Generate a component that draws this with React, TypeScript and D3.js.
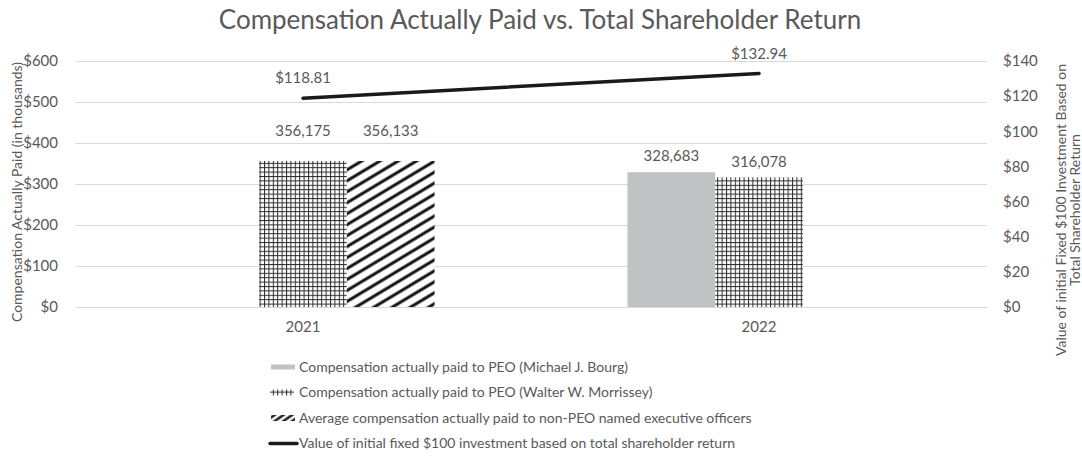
import React from "react";
import * as d3 from "d3";

const categories = ["2021", "2022"];
const seriesNames = [
  "Compensation actually paid to PEO (Michael J. Bourg)",
  "Compensation actually paid to PEO (Walter W. Morrissey)",
  "Average compensation actually paid to non-PEO named executive officers",
];
const peoBourg: (number | null)[] = [null, 328683];
const peoMorrissey: (number | null)[] = [356175, 316078];
const avgNonPeo: (number | null)[] = [356133, null];
const tsrValues = [118.81, 132.94];
const tsrName = "Value of initial fixed $100 investment based on total shareholder return";
const leftTicks = [0, 100000, 200000, 300000, 400000, 500000, 600000];
const rightTicks = [0, 20, 40, 60, 80, 100, 120, 140];

const W = 1082;
const H = 459;
const FONT = "Lato, 'Open Sans', sans-serif";
const TXT = "#595959";

export default function App() {
  const left = 75, right = 987, top = 61, bottom = 307;
  const x = d3.scaleBand<string>().domain(categories).range([left, right]).padding(0);
  const band = x.bandwidth();
  const groupW = band * 0.577;
  const sub = d3.scaleBand<number>().domain([0, 1, 2]).range([-groupW / 2, groupW / 2]).padding(0);
  const yL = d3.scaleLinear().domain([0, 600000]).range([bottom, top]);
  const yR = d3.scaleLinear().domain([0, 140]).range([bottom, top]);
  const series = [peoBourg, peoMorrissey, avgNonPeo];
  const fills = ["#c1c2c4", "url(#grid)", "url(#diag)"];
  const fmt = d3.format(",");
  const cx = (c: string) => (x(c) as number) + band / 2;
  // extra label lift per category (label placement as in reference)
  const labelLift = [30, 16];

  const line = d3
    .line<number>()
    .x((_, i) => cx(categories[i]))
    .y((d) => yR(d));

  return (
    <svg width={W} height={H} style={{ position: "absolute", left: 0, top: 0, fontFamily: FONT }}>
      <defs>
        <pattern id="grid" patternUnits="userSpaceOnUse" width={4.4} height={4.4}>
          <rect width={4.4} height={4.4} fill="#fff" />
          <line x1={0.5} y1={0} x2={0.5} y2={4.4} stroke="#2a2a2a" strokeWidth={1} />
          <line x1={0} y1={0.5} x2={4.4} y2={0.5} stroke="#2a2a2a" strokeWidth={1} />
        </pattern>
        <pattern id="diag" patternUnits="userSpaceOnUse" width={10} height={9.4} patternTransform="rotate(-31)">
          <rect width={10} height={9.4} fill="#fff" />
          <line x1={0} y1={4.7} x2={10} y2={4.7} stroke="#111" strokeWidth={3} />
        </pattern>
        <pattern id="diagLeg" patternUnits="userSpaceOnUse" width={6} height={5} patternTransform="rotate(-35)">
          <rect width={6} height={5} fill="#fff" />
          <line x1={0} y1={2.5} x2={6} y2={2.5} stroke="#111" strokeWidth={2.4} />
        </pattern>
      </defs>
      <rect width={W} height={H} fill="#fff" />
      <text x={540} y={29} textAnchor="middle" fontSize={26} fill={TXT}>
        Compensation Actually Paid vs. Total Shareholder Return
      </text>
      {leftTicks.map((t) => (
        <g key={t}>
          <line x1={left} x2={right} y1={Math.round(yL(t)) + 0.5} y2={Math.round(yL(t)) + 0.5} stroke="#d9d9d9" strokeWidth={1} />
          <text x={58} y={yL(t)} dy="0.35em" textAnchor="end" fontSize={15} fill={TXT}>
            {"$" + t / 1000}
          </text>
        </g>
      ))}
      {rightTicks.map((t) => (
        <text key={t} x={1003} y={yR(t)} dy="0.35em" textAnchor="start" fontSize={15} fill={TXT}>
          {"$" + t}
        </text>
      ))}
      <text transform="translate(17,192) rotate(-90)" textAnchor="middle" dy="0.35em" fontSize={14} fill={TXT}>
        Compensation Actually Paid (in thousands)
      </text>
      <text transform="translate(1061,210) rotate(-90)" textAnchor="middle" dy="0.35em" fontSize={14} fill={TXT}>
        Value of initial Fixed $100 Investment Based on
      </text>
      <text transform="translate(1075,210) rotate(-90)" textAnchor="middle" dy="0.35em" fontSize={14} fill={TXT}>
        Total Shareholder Return
      </text>
      {series.map((vals, si) =>
        vals.map((v, ci) => {
          if (v == null) return null;
          const bx = cx(categories[ci]) + (sub(si) as number);
          const y0 = yL(v);
          return (
            <g key={si + "-" + ci}>
              <rect x={bx} y={y0} width={sub.bandwidth()} height={bottom - y0} fill={fills[si]} />
              <text
                x={bx + sub.bandwidth() / 2}
                y={y0 - labelLift[ci]}
                dy="0.35em"
                textAnchor="middle"
                fontSize={15}
                fill={TXT}
              >
                {fmt(v)}
              </text>
            </g>
          );
        })
      )}
      {categories.map((c) => (
        <text key={c} x={cx(c)} y={327} dy="0.35em" textAnchor="middle" fontSize={15} fill={TXT}>
          {c}
        </text>
      ))}
      <path d={line(tsrValues) || ""} fill="none" stroke="#1a1a1a" strokeWidth={3.5} strokeLinecap="round" />
      {tsrValues.map((v, i) => (
        <text key={i} x={cx(categories[i])} y={yR(v) - 20} dy="0.35em" textAnchor="middle" fontSize={15} fill={TXT}>
          {"$" + v.toFixed(2)}
        </text>
      ))}
      {/* legend */}
      {[0, 1, 2, 3].map((i) => {
        const ly = 367 + i * 25.5;
        const label = i < 3 ? seriesNames[i] : tsrName;
        return (
          <g key={i}>
            {i === 0 && <rect x={271} y={ly - 2.5} width={24} height={5} fill="#c1c2c4" />}
            {i === 1 && <rect x={270} y={ly - 3} width={24} height={6} fill="url(#grid)" />}
            {i === 2 && <rect x={271} y={ly - 3} width={24} height={6} fill="url(#diagLeg)" />}
            {i === 3 && <line x1={270} x2={297} y1={ly} y2={ly} stroke="#1a1a1a" strokeWidth={3.5} strokeLinecap="round" />}
            <text x={299} y={ly} dy="0.35em" fontSize={14} fill={TXT}>
              {label}
            </text>
          </g>
        );
      })}
    </svg>
  );
}
